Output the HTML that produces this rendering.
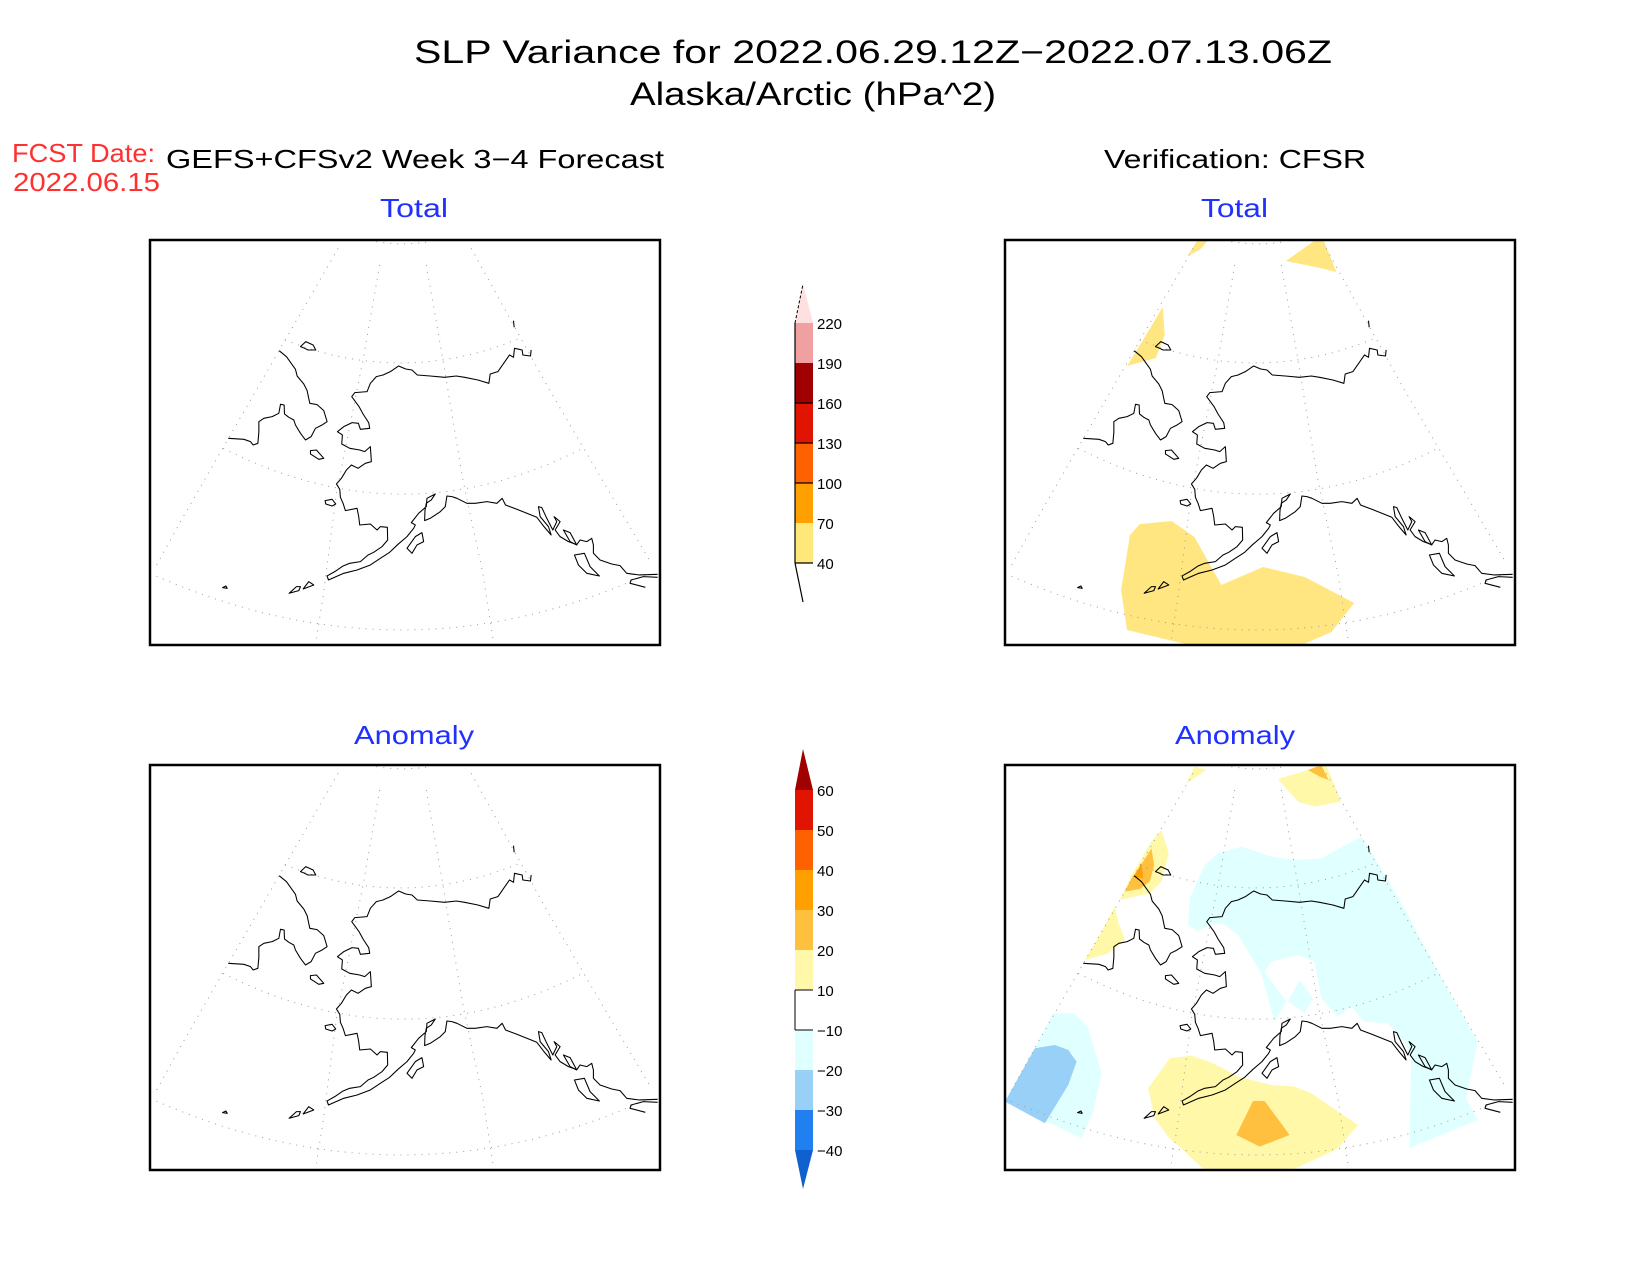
<!DOCTYPE html>
<html><head><meta charset="utf-8"><style>
html,body{margin:0;padding:0;background:#fff;}
svg{display:block;}
text{font-family:"Liberation Sans",sans-serif;}
</style></head><body>
<svg width="1650" height="1275" viewBox="0 0 1650 1275" xmlns="http://www.w3.org/2000/svg">
<defs>
<clipPath id="pc"><rect x="0" y="0" width="514" height="405"/></clipPath>
<g id="grat" fill="none" stroke="#9a9a9a" stroke-width="3" stroke-dasharray="3 18">
  <path d="M565,25 L100,830 L20,975"/>
  <path d="M690,75 L640,360 L560,760 L520,1070 L500,1195"/>
  <path d="M830,75 L880,360 L940,720 L1000,1000 L1030,1195"/>
  <path d="M965,25 L1200,450 L1500,960"/>
  <path d="M680,5 Q760,18 840,5"/>
  <path d="M405,300 Q760,440 1110,295"/>
  <path d="M220,625 Q760,900 1300,625"/>
  <path d="M0,1000 Q760,1340 1500,1000"/>
</g>
<g id="coast" fill="none" stroke="#000" stroke-width="3.2" stroke-linejoin="round">
  <path d="M1092,242 L1094,262"/>
  <path d="M1145,330 L1143,348 L1120,345 L1118,330 L1095,325 L1092,352 L1080,345 L1068,362 L1045,395 L1022,402 L1018,430 L985,420 L945,412 L920,408 L885,412 L842,408 L803,405 L787,390 L768,387 L747,378 L722,395 L700,405 L680,410 L662,430 L652,455 L615,458 L606,470 L615,482 L628,500 L640,522 L657,548 L660,565 L632,568 L626,550 L607,548 L582,560 L563,575 L578,585 L576,612 L600,625 L630,630 L645,635 L662,620 L665,665 L647,670 L625,685 L605,675 L590,690 L575,715 L560,732 L570,748 L572,772 L580,790 L587,812 L622,805 L627,830 L630,855 L662,852 L682,870 L692,860 L713,862 L714,900 L697,920 L672,937 L655,945 L632,965 L600,970 L580,978 L555,995 L532,1008 L536,1020 L582,1000 L622,990 L662,975 L692,955 L720,937 L745,913 L772,890 L792,865 L797,855 L785,848 L807,820 L830,800 L832,775 L857,762 L845,780 L830,790 L826,812 L825,842 L842,835 L872,815 L887,800 L892,768 L907,770 L922,775 L952,790 L977,790 L1012,785 L1042,790 L1058,775 L1068,795 L1102,808 L1132,820 L1162,832 L1182,858 L1205,885 L1197,860 L1172,830 L1167,800 L1177,803 L1192,835 L1210,870 L1222,845 L1214,830 L1232,845 L1217,870 L1232,890 L1257,905 L1282,914 L1292,900 L1312,905 L1327,895 L1332,915 L1332,940 L1352,960 L1387,972 L1412,977 L1432,1000 L1470,1005 L1525,1003"/>
  <path d="M1525,1012 L1482,1010 L1445,1020 L1442,1030 L1488,1042"/>
  <path d="M388,332 L410,350 L437,388 L442,408 L462,432 L472,452 L480,490 L502,494 L522,512 L532,545 L517,555 L497,565 L484,590 L467,600 L452,580 L437,555 L432,540 L417,532 L404,522 L403,495 L392,493 L387,520 L367,530 L342,535 L327,545 L327,577 L324,610 L310,615 L302,605 L282,598 L235,595"/>
  <path d="M482,632 L500,630 L522,655 L507,658 L482,642 Z"/>
  <path d="M452,320 L468,305 L490,315 L498,330 L475,330 L458,322 Z"/>
  <path d="M526,782 L547,778 L558,792 L547,798 L528,792 Z"/>
  <path d="M772,925 L797,890 L817,878 L822,905 L802,915 L787,940 Z"/>
  <path d="M418,1060 L440,1040 L452,1040 L447,1052 Z"/>
  <path d="M460,1047 L477,1025 L492,1035 Z"/>
  <path d="M218,1043 L228,1038 L232,1045 Z"/>
  <path d="M1275,945 L1305,940 L1322,980 L1350,1008 L1312,1000 L1287,975 Z"/>
  <path d="M1242,870 L1262,878 L1282,915 L1262,905 Z"/>
</g>
</defs>

<text x="873" y="63" font-size="32" text-anchor="middle" textLength="918" lengthAdjust="spacingAndGlyphs">SLP Variance for 2022.06.29.12Z−2022.07.13.06Z</text>
<text x="813" y="105" font-size="32" text-anchor="middle" textLength="366" lengthAdjust="spacingAndGlyphs">Alaska/Arctic (hPa^2)</text>
<text x="12" y="162" font-size="26" fill="#ff3030" textLength="143" lengthAdjust="spacingAndGlyphs">FCST Date:</text>
<text x="13" y="191" font-size="26" fill="#ff3030" textLength="147" lengthAdjust="spacingAndGlyphs">2022.06.15</text>
<text x="166" y="168" font-size="26" textLength="498" lengthAdjust="spacingAndGlyphs">GEFS+CFSv2 Week 3−4 Forecast</text>
<text x="1104" y="168" font-size="26" textLength="262" lengthAdjust="spacingAndGlyphs">Verification: CFSR</text>
<text x="380" y="217" font-size="26" fill="#2030ff" textLength="68" lengthAdjust="spacingAndGlyphs">Total</text>
<text x="1201" y="217" font-size="26" fill="#2030ff" textLength="67" lengthAdjust="spacingAndGlyphs">Total</text>
<text x="354" y="744" font-size="26" fill="#2030ff" textLength="120" lengthAdjust="spacingAndGlyphs">Anomaly</text>
<text x="1175" y="744" font-size="26" fill="#2030ff" textLength="120" lengthAdjust="spacingAndGlyphs">Anomaly</text>

<g transform="translate(150,240) scale(0.9922,1)">
  <g transform="scale(0.3355,0.3333)"><use href="#grat"/><use href="#coast"/></g>
  <rect x="0" y="0" width="514" height="405" fill="none" stroke="#000" stroke-width="2.5"/>
</g>
<g transform="translate(150,765) scale(0.9922,1)">
  <g transform="scale(0.3355,0.3333)"><use href="#grat"/><use href="#coast"/></g>
  <rect x="0" y="0" width="514" height="405" fill="none" stroke="#000" stroke-width="2.5"/>
</g>
<g transform="translate(1005,240) scale(0.9922,1)">
  <g clip-path="url(#pc)">
    <g fill="#ffe680">
      <path d="M136,284 L168,281 L191,297 L218,345 L260,327 L302,337 L352,363 L329,392 L299,405 L186,405 L123,390 L117,350 L126,295 Z"/>
      <path d="M184,16 L194,0 L205,0 L196,10 Z"/>
      <path d="M283,21 L313,0 L321,0 L334,32 L318,28 Z"/>
      <path d="M123,126 L144,92 L159,67 L161,95 L152,118 Z"/>
    </g>
    <g transform="scale(0.3355,0.3333)"><use href="#grat"/><use href="#coast"/></g>
  </g>
  <rect x="0" y="0" width="514" height="405" fill="none" stroke="#000" stroke-width="2.5"/>
</g>
<g transform="translate(1005,765) scale(0.9922,1)">
  <g clip-path="url(#pc)">
    <g transform="scale(0.3355,0.3333)">
      <path fill="#e0ffff" d="M550,480 L555,400 L600,300 L640,265 L710,245 L800,275 L870,285 L950,280 L1070,215 L1100,260 L1200,430 L1300,620 L1420,830 L1385,1000 L1420,1065 L1215,1150 L1220,880 L1200,830 L1150,775 L1080,770 L1040,725 L1000,755 L950,700 L930,590 L880,570 L800,590 L780,620 L845,710 L810,770 L770,625 L700,510 L655,475 L610,480 L580,500 Z"/>
      <path fill="#e0ffff" d="M850,710 L885,645 L925,700 L900,745 Z"/>
      <path fill="#e0ffff" d="M0,1010 L110,810 L145,745 L210,745 L250,790 L290,925 L265,1040 L230,1120 Z"/>
      <path fill="#98d0f8" d="M0,1010 L90,850 L150,840 L190,855 L215,890 L190,960 L120,1075 Z"/>
      <path fill="#fff8a8" d="M430,970 L495,880 L560,872 L625,895 L700,935 L800,960 L870,965 L920,985 L1060,1080 L1000,1150 L950,1175 L860,1215 L600,1215 L540,1160 L490,1115 L450,1060 Z"/>
      <path fill="#ffc040" d="M695,1110 L745,1008 L780,1008 L855,1110 L765,1145 Z"/>
      <path fill="#fff8a8" d="M820,42 L910,15 L950,0 L965,0 L1010,110 L930,125 L880,110 Z"/>
      <path fill="#ffc040" d="M910,15 L950,0 L972,45 L945,35 Z"/>
      <path fill="#fff8a8" d="M545,55 L570,5 L605,15 Z"/>
      <path fill="#fff8a8" d="M345,405 L380,330 L440,230 L470,195 L492,265 L470,350 L435,385 Z"/>
      <path fill="#ffc040" d="M360,380 L380,340 L415,290 L440,250 L448,300 L435,350 L405,372 Z"/>
      <path fill="#ffa000" d="M388,335 L410,295 L415,340 Z"/>
      <path fill="#fff8a8" d="M240,585 L290,500 L330,425 L340,470 L360,525 L310,565 Z"/>
      <use href="#grat"/><use href="#coast"/>
    </g>
  </g>
  <rect x="0" y="0" width="514" height="405" fill="none" stroke="#000" stroke-width="2.5"/>
</g>

<g>
  <path d="M795,323 L803,284 L813,323 Z" fill="#ffe0e0"/>
  <path d="M795,323 L803,284" stroke="#000" stroke-width="1" fill="none" stroke-dasharray="3 2"/>
  <rect x="795" y="323" width="18" height="40" fill="#f0a0a0"/>
  <rect x="795" y="363" width="18" height="40" fill="#a00000"/>
  <rect x="795" y="403" width="18" height="40" fill="#e01400"/>
  <rect x="795" y="443" width="18" height="40" fill="#ff6000"/>
  <rect x="795" y="483" width="18" height="40" fill="#ffa000"/>
  <rect x="795" y="523" width="18" height="40" fill="#ffe87a"/>
  <path d="M795,323 L795,563 M795,563 L803,602" stroke="#000" stroke-width="1.2" fill="none"/>
  <g stroke="#000" stroke-width="1.2">
    <line x1="795" y1="403" x2="813" y2="403"/><line x1="795" y1="443" x2="813" y2="443"/>
    <line x1="795" y1="483" x2="813" y2="483"/><line x1="795" y1="563" x2="813" y2="563"/>
  </g>
  <g font-size="15">
    <text x="817" y="329">220</text><text x="817" y="369">190</text><text x="817" y="409">160</text>
    <text x="817" y="449">130</text><text x="817" y="489">100</text><text x="817" y="529">70</text>
    <text x="817" y="569">40</text>
  </g>
</g>

<g>
  <path d="M795,790 L803,749 L813,790 Z" fill="#a00000"/>
  <rect x="795" y="790" width="18" height="40" fill="#e01400"/>
  <rect x="795" y="830" width="18" height="40" fill="#ff6000"/>
  <rect x="795" y="870" width="18" height="40" fill="#ffa000"/>
  <rect x="795" y="910" width="18" height="40" fill="#ffc040"/>
  <rect x="795" y="950" width="18" height="40" fill="#fff8a8"/>
  <rect x="795" y="990" width="18" height="40" fill="#ffffff"/>
  <rect x="795" y="1030" width="18" height="40" fill="#e0ffff"/>
  <rect x="795" y="1070" width="18" height="40" fill="#98d0f8"/>
  <rect x="795" y="1110" width="18" height="40" fill="#2080f0"/>
  <path d="M795,1150 L803,1189 L813,1150 Z" fill="#1060d0"/>
  <g stroke="#000" stroke-width="1">
    <line x1="795" y1="990" x2="813" y2="990"/><line x1="795" y1="1030" x2="813" y2="1030"/>
    <line x1="795" y1="990" x2="795" y2="1030"/>
  </g>
  <g font-size="15">
    <text x="817" y="796">60</text><text x="817" y="836">50</text><text x="817" y="876">40</text>
    <text x="817" y="916">30</text><text x="817" y="956">20</text><text x="817" y="996">10</text>
    <text x="817" y="1036">−10</text><text x="817" y="1076">−20</text><text x="817" y="1116">−30</text>
    <text x="817" y="1156">−40</text>
  </g>
</g>
</svg>
</body></html>
